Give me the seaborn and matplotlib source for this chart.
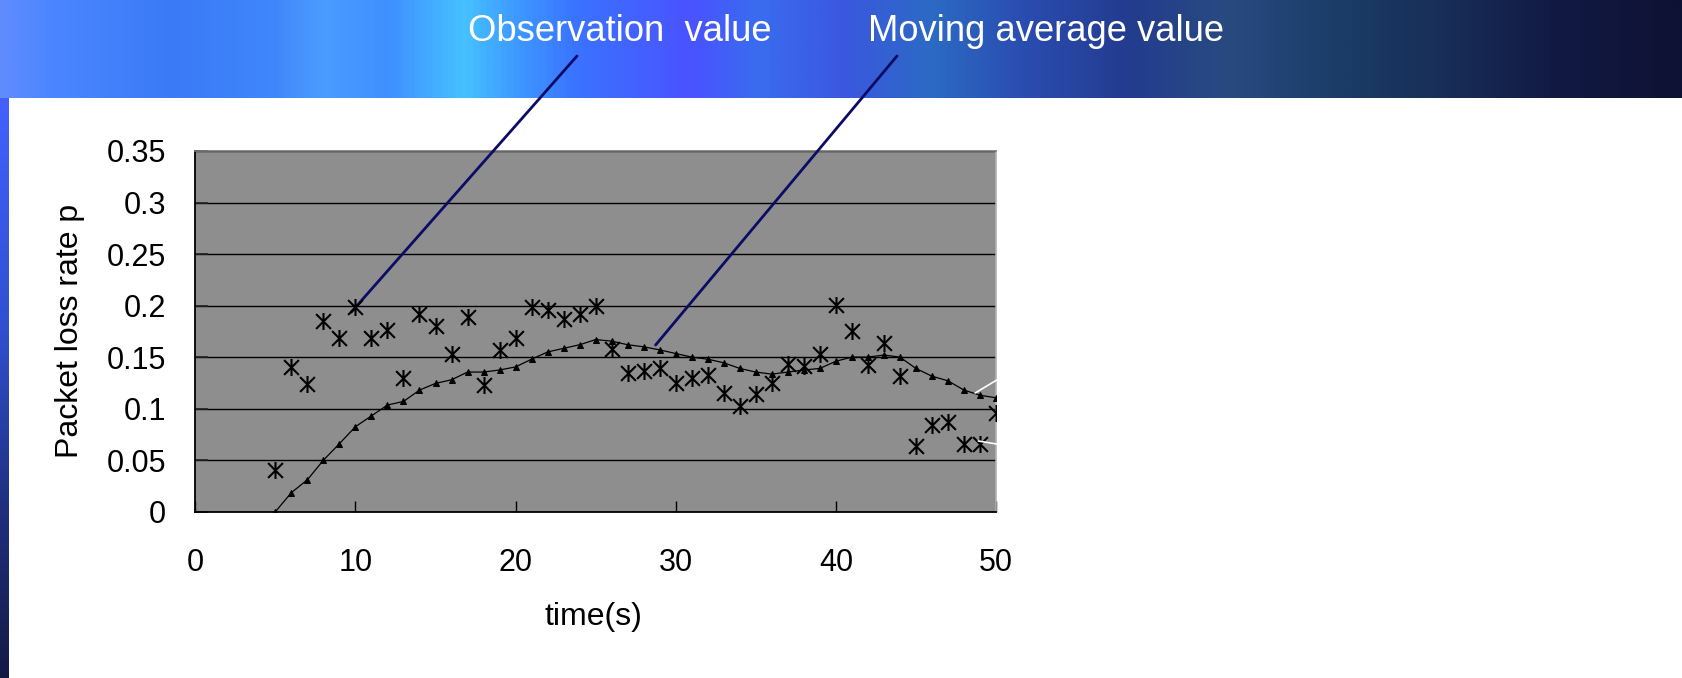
import numpy as np
import matplotlib
matplotlib.use("Agg")
import matplotlib.pyplot as plt
import seaborn as sns
from matplotlib.path import Path
from matplotlib.colors import LinearSegmentedColormap

# ---------------- data ----------------
time_s = list(range(5, 51))
observation = [0.040, 0.140, 0.124, 0.185, 0.169, 0.199, 0.169, 0.176, 0.130, 0.192,
               0.180, 0.153, 0.189, 0.123, 0.157, 0.169, 0.199, 0.196, 0.187, 0.192,
               0.200, 0.158, 0.135, 0.137, 0.139, 0.125, 0.130, 0.133, 0.115, 0.103,
               0.114, 0.125, 0.143, 0.141, 0.153, 0.201, 0.175, 0.142, 0.164, 0.132,
               0.064, 0.084, 0.087, 0.066, 0.066, 0.096]
moving_avg = [0.000, 0.0185, 0.031, 0.050, 0.066, 0.0825, 0.093, 0.1035, 0.107, 0.118,
              0.1245, 0.128, 0.1355, 0.1355, 0.1375, 0.1405, 0.148, 0.155, 0.1585, 0.162,
              0.167, 0.1655, 0.162, 0.160, 0.157, 0.1535, 0.150, 0.148, 0.1445, 0.139,
              0.1355, 0.1335, 0.1355, 0.1375, 0.139, 0.146, 0.150, 0.150, 0.152, 0.150,
              0.139, 0.1315, 0.127, 0.118, 0.113, 0.1105]
y_ticks = [0, 0.05, 0.10, 0.15, 0.20, 0.25, 0.30, 0.35]
y_tick_labels = ["0", "0.05", "0.1", "0.15", "0.2", "0.25", "0.3", "0.35"]
x_ticks = [0, 10, 20, 30, 40, 50]
x_tick_labels = ["0", "10", "20", "30", "40", "50"]
callout_labels = ["Observation  value", "Moving average value"]
callout_targets = [(9.73, 0.1935), (28.74, 0.1617)]

sns.set_theme(style="white")
plt.rcParams["font.family"] = ["Liberation Sans", "DejaVu Sans"]
plt.rcParams["text.color"] = "black"
plt.rcParams["axes.labelcolor"] = "black"
plt.rcParams["xtick.color"] = "black"
plt.rcParams["ytick.color"] = "black"

W, H = 1683, 678
fig = plt.figure(figsize=(W / 100, H / 100), dpi=100)
fig.patch.set_facecolor("white")

# ---------------- banner background ----------------
banner_h = 98
stops = [(0.00, "#5f8cff"), (0.03, "#4a86ff"), (0.10, "#3b7af6"), (0.16, "#3f86fb"),
         (0.19, "#4a9cff"), (0.23, "#3f90ff"), (0.275, "#46c2ff"), (0.30, "#3fa0ff"),
         (0.34, "#3a74ff"), (0.41, "#4a52ff"), (0.45, "#3a6cf0"),
         (0.50, "#3a58e0"), (0.555, "#2c6ac4"), (0.61, "#2a4cb0"), (0.67, "#233c90"),
         (0.73, "#284a80"), (0.80, "#1a3c66"), (0.86, "#182e58"), (0.925, "#121a44"),
         (1.00, "#0e1234")]
cmap = LinearSegmentedColormap.from_list("banner", stops)
gx = np.linspace(0, 1, 800)
grad = np.tile(gx, (40, 1))
bax = fig.add_axes([0, 1 - banner_h / H, 1, banner_h / H])
bax.imshow(grad, aspect="auto", cmap=cmap, extent=[0, 1, 0, 1], interpolation="bilinear")
bax.axis("off")

# left strip
strip_cmap = LinearSegmentedColormap.from_list(
    "strip", [(0, "#151a45"), (0.3, "#203080"), (0.6, "#3050d0"), (1.0, "#4460ff")])
sax = fig.add_axes([0, 0, 8.3 / W, 1 - banner_h / H])
sax.imshow(np.linspace(1, 0, 200).reshape(-1, 1) * np.ones((1, 2)), aspect="auto",
           cmap=strip_cmap, extent=[0, 1, 0, 1], vmin=0, vmax=1)
sax.axis("off")

# ---------------- main axes ----------------
ax = fig.add_axes([195.3 / W, (H - 511.7) / H, 800.7 / W, 360.7 / H])
ax.set_zorder(3)
ax.set_facecolor("#8e8e8e")

star = Path([(-1, -1), (1, 1), (-1, 1), (1, -1), (0, -1.15), (0, 1.15)],
            [Path.MOVETO, Path.LINETO, Path.MOVETO, Path.LINETO, Path.MOVETO, Path.LINETO])

sns.lineplot(x=time_s, y=moving_avg, ax=ax, color="black", linewidth=0.9,
             marker="^", markersize=5.0, markeredgecolor="black", sort=False, zorder=4)
sns.scatterplot(x=time_s, y=observation, ax=ax, marker=star, s=150,
                color="black", edgecolor="black", linewidth=1.5, zorder=5)

ax.set_xlim(0, 50)
ax.set_ylim(0, 0.35)
ax.set_xticks(x_ticks)
ax.set_xticklabels(x_tick_labels)
ax.set_yticks(y_ticks)
ax.set_yticklabels(y_tick_labels)
ax.tick_params(axis="x", direction="in", length=8, width=1, color="black",
               labelsize=22, labelcolor="black", pad=26, bottom=True, top=False)
ax.tick_params(axis="y", direction="in", length=9, width=1.2, color="#222222",
               labelsize=22, labelcolor="black", pad=21, left=True, right=False)
ax.set_axisbelow(True)
ax.yaxis.grid(True, color="black", linewidth=1.0)
ax.xaxis.grid(False)
for side in ["left", "bottom"]:
    ax.spines[side].set_color("black")
    ax.spines[side].set_linewidth(1.3)
ax.spines["top"].set_color("#7a7a7a")
ax.spines["top"].set_linewidth(1.2)
ax.spines["right"].set_color("#b0b0b0")
ax.spines["right"].set_linewidth(1.2)

ax.set_xlabel("time(s)", fontsize=23, color="black")
ax.set_ylabel("Packet loss rate p", fontsize=23, color="black")
ax.xaxis.set_label_coords(0.497, (511.7 - 602) / 360.7)
ax.yaxis.set_label_coords((85.5 - 195.3) / 800.7, 0.5)

# white leader fragments at right edge
ax.plot([48.7, 52.0], [0.1152, 0.146], color="white", lw=1.2, clip_on=False, zorder=6)
ax.plot([48.9, 52.0], [0.0686, 0.0606], color="white", lw=1.2, clip_on=False, zorder=6)

# ---------------- callouts ----------------
text_left = [468.3, 868.3]
line_start = [(577, 56), (897, 56)]
for lab, tx, (sx, sy), tgt in zip(callout_labels, text_left, line_start, callout_targets):
    fig.text(tx / W, 1 - 41 / H, lab, color="white", fontsize=26.2,
             ha="left", va="baseline", zorder=10)
    ax.annotate("", xy=tgt, xycoords="data",
                xytext=(sx / W, 1 - sy / H), textcoords="figure fraction",
                arrowprops=dict(arrowstyle="-", color="#0c0c66", lw=2.0,
                                shrinkA=0, shrinkB=0),
                annotation_clip=False)

fig.savefig("out.png", dpi=100, facecolor="white")
